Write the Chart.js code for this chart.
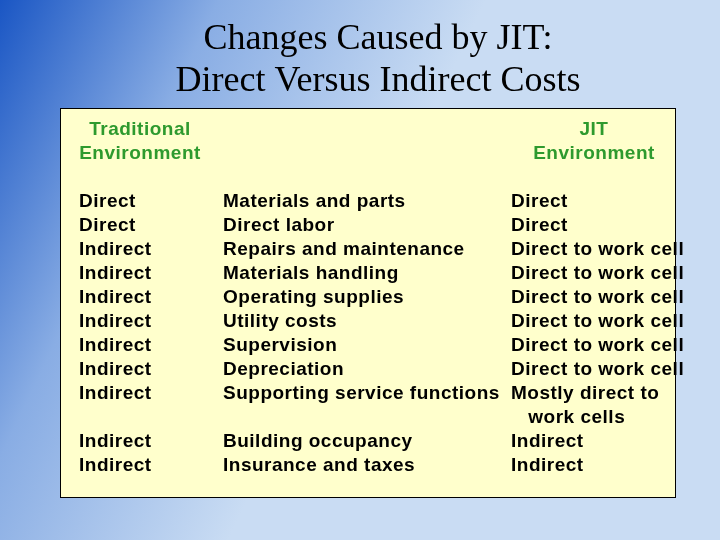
<!DOCTYPE html>
<html><head><meta charset="utf-8">
<script src="https://cdn.jsdelivr.net/npm/chart.js@4"></script>
<style>html,body{margin:0;padding:0;}#w{width:720px;height:540px;}</style>
</head><body><div id="w"><canvas id="c"></canvas></div>
<script>
const titleLines = ["Changes Caused by JIT:", "Direct Versus Indirect Costs"];
const headerTraditional = ["Traditional", "Environment"];
const headerJIT = ["JIT", "Environment"];
const traditional = ["Direct","Direct","Indirect","Indirect","Indirect","Indirect","Indirect","Indirect","Indirect","","Indirect","Indirect"];
const costItems = ["Materials and parts","Direct labor","Repairs and maintenance","Materials handling","Operating supplies","Utility costs","Supervision","Depreciation","Supporting service functions","","Building occupancy","Insurance and taxes"];
const jit = ["Direct","Direct","Direct to work cell","Direct to work cell","Direct to work cell","Direct to work cell","Direct to work cell","Direct to work cell","Mostly direct to","   work cells","Indirect","Indirect"];
const rowLabels = traditional.map((_, i) => "r" + i);

const slide = {
  id: 'slide',
  beforeDraw(chart) {
    const ctx = chart.ctx, W = chart.width, H = chart.height;
    ctx.save();
    const g = ctx.createLinearGradient(0, 0, W * 0.55, H * 0.35);
    g.addColorStop(0, '#1a56c4');
    g.addColorStop(0.45, '#89ade4');
    g.addColorStop(1, '#c9dcf3');
    ctx.fillStyle = '#c9dcf3'; ctx.fillRect(0, 0, W, H);
    ctx.fillStyle = g; ctx.fillRect(0, 0, W, H);
    ctx.fillStyle = '#ffffcc'; ctx.fillRect(60, 108, 615, 389);
    ctx.strokeStyle = '#000'; ctx.lineWidth = 1; ctx.strokeRect(60.5, 108.5, 615, 389);
    ctx.restore();
  },
  afterDraw(chart) {
    const ctx = chart.ctx, y = chart.scales.y;
    ctx.save();
    ctx.textBaseline = 'middle';
    ctx.fillStyle = '#000';
    ctx.font = '36px "Liberation Serif", "Times New Roman", serif';
    ctx.textAlign = 'center';
    ctx.fillText(titleLines[0], 378, 40);
    ctx.fillText(titleLines[1], 378, 82);
    ctx.font = 'bold 19px "Liberation Sans", Arial, sans-serif';
    ctx.letterSpacing = '0.5px';
    ctx.fillStyle = '#2e9a2e';
    headerTraditional.forEach((t, i) => ctx.fillText(t, 140, 130 + i * 24));
    headerJIT.forEach((t, i) => ctx.fillText(t, 594, 130 + i * 24));
    ctx.textAlign = 'left';
    ctx.fillStyle = '#000';
    for (let i = 0; i < traditional.length; i++) {
      const py = y.getPixelForValue(i);
      ctx.fillText(traditional[i], 79, py);
      ctx.fillText(costItems[i], 223, py);
      ctx.fillText(jit[i], 511, py);
    }
    ctx.restore();
  }
};

new Chart(document.getElementById('c'), {
  type: 'bar',
  data: { labels: rowLabels, datasets: [{ data: [], indexAxis: 'y' }] },
  options: {
    indexAxis: 'y', responsive: true, maintainAspectRatio: false, animation: false,
    layout: { padding: { top: 202, bottom: 74, left: 0, right: 0 } },
    plugins: { legend: { display: false }, tooltip: { enabled: false } },
    scales: {
      y: { type: 'category', offset: false, display: false },
      x: { display: false }
    }
  },
  plugins: [slide]
});
</script></body></html>
